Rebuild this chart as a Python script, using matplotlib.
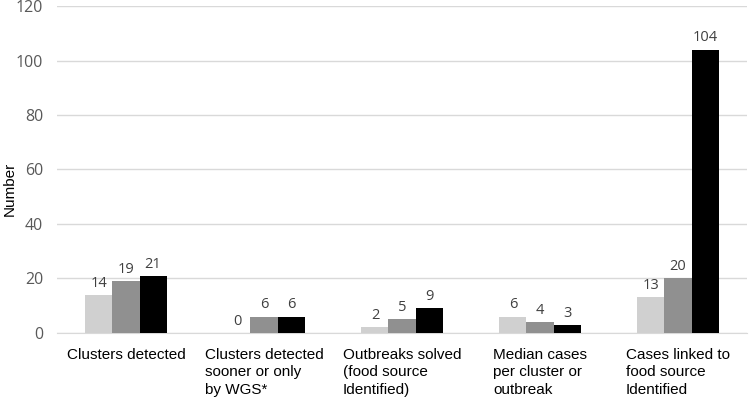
import numpy as np
import matplotlib.pyplot as plt

categories = ["Clusters detected",
              "Clusters detected\nsooner or only\nby WGS*",
              "Outbreaks solved\n(food source\nIdentified)",
              "Median cases\nper cluster or\noutbreak",
              "Cases linked to\nfood source\nIdentified"]
series_a = [14, 0, 2, 6, 13]
series_b = [19, 6, 5, 4, 20]
series_c = [21, 6, 9, 3, 104]
colors = ["#d0d0d0", "#909090", "#000000"]

fig = plt.figure(figsize=(7.5, 4.03), dpi=100)
ax = fig.add_axes([0.076, 0.174, 0.92, 0.811])

x = np.arange(len(categories))
w = 0.196
for i, (vals, c) in enumerate(zip([series_a, series_b, series_c], colors)):
    pos = x + (i - 1) * w
    bars = ax.bar(pos, vals, width=w, color=c, zorder=3)
    for b, v in zip(bars, vals):
        ax.annotate(str(v), (b.get_x() + b.get_width() / 2, v),
                    xytext=(0, 3), textcoords="offset points",
                    ha="center", va="bottom", fontsize=10.5,
                    color="#404040", family="Open Sans")

ax.set_xlim(-0.5, len(categories) - 0.5)
ax.set_ylim(0, 120)
ax.set_yticks(range(0, 121, 20))
ax.yaxis.grid(True, color="#d9d9d9", linewidth=1, zorder=0)
for s in ["top", "right", "left"]:
    ax.spines[s].set_visible(False)
ax.spines["bottom"].set_color("#d9d9d9")
ax.tick_params(axis="y", length=0, labelsize=11.5, labelcolor="#595959", pad=10)
ax.tick_params(axis="x", length=0, pad=11)
for t in ax.get_yticklabels():
    t.set_family("Open Sans")

ax.set_xticks(x)
ax.set_xticklabels(categories, fontsize=11, family="Liberation Sans",
                   multialignment="left", linespacing=1.3)
ax.set_ylabel("Number", fontsize=11, family="Liberation Sans")
ax.yaxis.set_label_coords(-0.058, 0.44)

fig.savefig("out.png", dpi=100)
